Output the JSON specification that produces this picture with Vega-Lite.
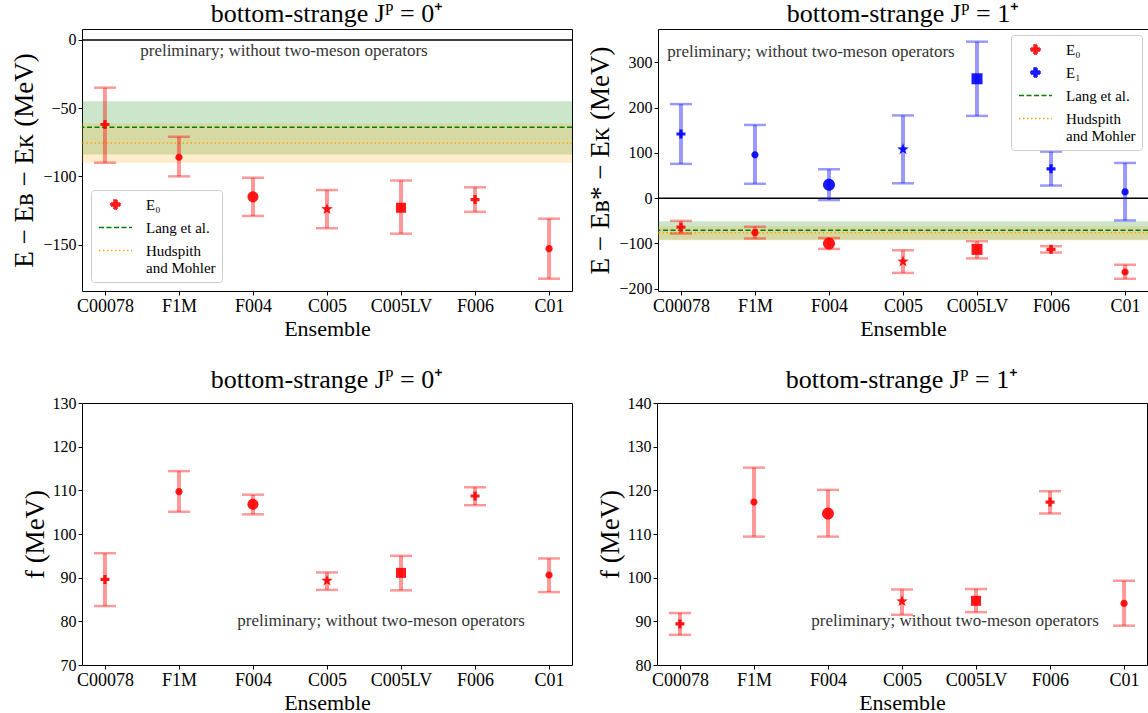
{
  "$schema": "https://vega.github.io/schema/vega-lite/v6.json",
  "background": "white",
  "padding": {"left": 10, "top": 0, "right": 0, "bottom": 0},
  "config": {
    "font": "Liberation Serif",
    "view": {"stroke": "black", "strokeWidth": 1},
    "axis": {"grid": false, "domain": false, "labelFont": "Liberation Serif", "labelFontSize": 16, "labelColor": "black", "titleFont": "Liberation Serif", "titleFontWeight": "normal", "titleColor": "black", "tickColor": "black", "tickSize": 4, "labelPadding": 2},
    "axisX": {"titleFontSize": 22, "titlePadding": 3, "labelFontSize": 18},
    "axisY": {"titleFontSize": 27, "titlePadding": 4},
    "title": {"fontSize": 26, "fontWeight": "normal", "font": "Liberation Serif", "offset": 2, "color": "black"},
    "legend": {"title": null, "symbolSize": 225, "symbolStrokeWidth": 1.5, "symbolOpacity": 1, "symbolOffset": 10, "labelFontSize": 15, "labelFont": "Liberation Serif", "labelColor": "black", "fillColor": "white", "strokeColor": "#cccccc", "cornerRadius": 3, "padding": 6, "rowPadding": 6, "labelOffset": 22}
  },
  "datasets": {
    "e": [
      {"panel": "0", "ensemble": "C00078", "state": "E₀", "value": -62, "lo": -90, "hi": -35},
      {"panel": "0", "ensemble": "F1M", "state": "E₀", "value": -86, "lo": -100, "hi": -71},
      {"panel": "0", "ensemble": "F004", "state": "E₀", "value": -115, "lo": -129, "hi": -101},
      {"panel": "0", "ensemble": "C005", "state": "E₀", "value": -124, "lo": -138, "hi": -110},
      {"panel": "0", "ensemble": "C005LV", "state": "E₀", "value": -123, "lo": -142, "hi": -103},
      {"panel": "0", "ensemble": "F006", "state": "E₀", "value": -117, "lo": -126, "hi": -108},
      {"panel": "0", "ensemble": "C01", "state": "E₀", "value": -153, "lo": -175, "hi": -131},
      {"panel": "1", "ensemble": "C00078", "state": "E₀", "value": -64, "lo": -78, "hi": -50},
      {"panel": "1", "ensemble": "F1M", "state": "E₀", "value": -76, "lo": -89, "hi": -63},
      {"panel": "1", "ensemble": "F004", "state": "E₀", "value": -100, "lo": -112, "hi": -88},
      {"panel": "1", "ensemble": "C005", "state": "E₀", "value": -140, "lo": -165, "hi": -115},
      {"panel": "1", "ensemble": "C005LV", "state": "E₀", "value": -113, "lo": -133, "hi": -95},
      {"panel": "1", "ensemble": "F006", "state": "E₀", "value": -113, "lo": -120, "hi": -106},
      {"panel": "1", "ensemble": "C01", "state": "E₀", "value": -163, "lo": -178, "hi": -147},
      {"panel": "1", "ensemble": "C00078", "state": "E₁", "value": 142, "lo": 76, "hi": 208},
      {"panel": "1", "ensemble": "F1M", "state": "E₁", "value": 96, "lo": 32, "hi": 162},
      {"panel": "1", "ensemble": "F004", "state": "E₁", "value": 30, "lo": -4, "hi": 64},
      {"panel": "1", "ensemble": "C005", "state": "E₁", "value": 108, "lo": 33, "hi": 183},
      {"panel": "1", "ensemble": "C005LV", "state": "E₁", "value": 264, "lo": 182, "hi": 346},
      {"panel": "1", "ensemble": "F006", "state": "E₁", "value": 65, "lo": 28, "hi": 103},
      {"panel": "1", "ensemble": "C01", "state": "E₁", "value": 14, "lo": -49, "hi": 78}
    ],
    "f": [
      {"panel": "0", "ensemble": "C00078", "state": "E₀", "value": 89.6, "lo": 83.5, "hi": 95.6},
      {"panel": "0", "ensemble": "F1M", "state": "E₀", "value": 109.7, "lo": 105.1, "hi": 114.4},
      {"panel": "0", "ensemble": "F004", "state": "E₀", "value": 106.8, "lo": 104.5, "hi": 109.0},
      {"panel": "0", "ensemble": "C005", "state": "E₀", "value": 89.3, "lo": 87.2, "hi": 91.2},
      {"panel": "0", "ensemble": "C005LV", "state": "E₀", "value": 91.1, "lo": 87.1, "hi": 95.0},
      {"panel": "0", "ensemble": "F006", "state": "E₀", "value": 108.7, "lo": 106.6, "hi": 110.7},
      {"panel": "0", "ensemble": "C01", "state": "E₀", "value": 90.6, "lo": 86.7, "hi": 94.4},
      {"panel": "1", "ensemble": "C00078", "state": "E₀", "value": 89.4, "lo": 86.9, "hi": 91.9},
      {"panel": "1", "ensemble": "F1M", "state": "E₀", "value": 117.3, "lo": 109.4, "hi": 125.2},
      {"panel": "1", "ensemble": "F004", "state": "E₀", "value": 114.7, "lo": 109.4, "hi": 120.1},
      {"panel": "1", "ensemble": "C005", "state": "E₀", "value": 94.6, "lo": 91.5, "hi": 97.3},
      {"panel": "1", "ensemble": "C005LV", "state": "E₀", "value": 94.7, "lo": 92.1, "hi": 97.4},
      {"panel": "1", "ensemble": "F006", "state": "E₀", "value": 117.3, "lo": 114.7, "hi": 119.8},
      {"panel": "1", "ensemble": "C01", "state": "E₀", "value": 94.1, "lo": 89.0, "hi": 99.3}
    ],
    "ref": [
      {"panel": "0", "series": "Lang et al.", "value": -64, "lo": -84, "hi": -45},
      {"panel": "0", "series": "Hudspith and Mohler", "value": -75.5, "lo": -90, "hi": -61},
      {"panel": "1", "series": "Lang et al.", "value": -70.5, "lo": -92, "hi": -51},
      {"panel": "1", "series": "Hudspith and Mohler", "value": -76.5, "lo": -93, "hi": -62}
    ],
    "leg0": [{"series": "E₀"}, {"series": "Lang et al."}, {"series": "Hudspith and Mohler"}],
    "leg1": [{"series": "E₀"}, {"series": "E₁"}, {"series": "Lang et al."}, {"series": "Hudspith and Mohler"}],
    "one": [{"k": 1}]
  },
  "resolve": {"scale": {"fill": "independent", "stroke": "independent", "shape": "independent", "strokeDash": "independent"}},
  "spacing": 26,
  "vconcat": [
    {
      "spacing": 12,
      "resolve": {"scale": {"fill": "independent", "stroke": "independent", "shape": "independent", "strokeDash": "independent"}},
      "hconcat": [
        {
          "width": 490, "height": 262,
          "title": "bottom-strange Jᴾ = 0⁺",
          "layer": [
            {"data": {"name": "ref"}, "transform": [{"filter": "datum.panel == '0'"}],
             "mark": {"type": "rect", "opacity": 0.2},
             "encoding": {
               "y": {"field": "lo", "type": "quantitative", "title": "E − Eʙ − Eᴋ (MeV)", "scale": {"domain": [-184, 8], "nice": false, "zero": false}, "axis": {"values": [0, -50, -100, -150]}},
               "y2": {"field": "hi"},
               "color": {"condition": {"test": "datum.series == 'Lang et al.'", "value": "#008000"}, "value": "#ffa500"}}},
            {"data": {"name": "ref"}, "transform": [{"filter": "datum.panel == '0'"}],
             "mark": {"type": "rule", "strokeWidth": 1.5},
             "encoding": {
               "y": {"field": "value", "type": "quantitative", "title": "E − Eʙ − Eᴋ (MeV)"},
               "color": {"condition": {"test": "datum.series == 'Lang et al.'", "value": "#008000"}, "value": "#ffa500"},
               "strokeDash": {"condition": {"test": "datum.series == 'Lang et al.'", "value": [5, 2.5]}, "value": [1.5, 2.5]}}},
            {"data": {"name": "one"}, "mark": {"type": "rule", "color": "black", "strokeWidth": 1.5},
             "encoding": {"y": {"datum": 0, "type": "quantitative"}}},
            {"data": {"name": "e"}, "transform": [{"filter": "datum.panel == '0'"}],
             "mark": {"type": "rule", "strokeWidth": 4, "opacity": 0.4},
             "encoding": {
               "x": {"field": "ensemble", "type": "nominal", "title": "Ensemble", "scale": {"type": "point", "padding": 0.31, "domain": ["C00078", "F1M", "F004", "C005", "C005LV", "F006", "C01"]}, "axis": {"labelAngle": 0}},
               "y": {"field": "lo", "type": "quantitative", "title": "E − Eʙ − Eᴋ (MeV)"},
               "y2": {"field": "hi"},
               "color": {"condition": {"test": "datum.state == 'E₁'", "value": "#0000ff"}, "value": "#ff0000"}}},
            {"data": {"name": "e"}, "transform": [{"filter": "datum.panel == '0'"}],
             "mark": {"type": "tick", "orient": "horizontal", "size": 22, "thickness": 2.5, "opacity": 0.4},
             "encoding": {
               "x": {"field": "ensemble", "type": "nominal", "title": "Ensemble"},
               "y": {"field": "lo", "type": "quantitative", "title": "E − Eʙ − Eᴋ (MeV)"},
               "color": {"condition": {"test": "datum.state == 'E₁'", "value": "#0000ff"}, "value": "#ff0000"}}},
            {"data": {"name": "e"}, "transform": [{"filter": "datum.panel == '0'"}],
             "mark": {"type": "tick", "orient": "horizontal", "size": 22, "thickness": 2.5, "opacity": 0.4},
             "encoding": {
               "x": {"field": "ensemble", "type": "nominal", "title": "Ensemble"},
               "y": {"field": "hi", "type": "quantitative", "title": "E − Eʙ − Eᴋ (MeV)"},
               "color": {"condition": {"test": "datum.state == 'E₁'", "value": "#0000ff"}, "value": "#ff0000"}}},
            {"data": {"name": "e"}, "transform": [{"filter": "datum.panel == '0'"}],
             "mark": {"type": "point", "filled": true, "opacity": 0.9, "size": 400},
             "encoding": {
               "x": {"field": "ensemble", "type": "nominal", "title": "Ensemble"},
               "y": {"field": "value", "type": "quantitative", "title": "E − Eʙ − Eᴋ (MeV)"},
               "color": {"condition": {"test": "datum.state == 'E₁'", "value": "#0000ff"}, "value": "#ff0000"},
               "shape": {"condition": [
                 {"test": "datum.ensemble == 'C00078' || datum.ensemble == 'F006'", "value": "M-0.16,-0.45H0.16V-0.16H0.45V0.16H0.16V0.45H-0.16V0.16H-0.45V-0.16H-0.16Z"},
                 {"test": "datum.ensemble == 'F004'", "value": "M-0.55,0A0.55,0.55 0 1,0 0.55,0A0.55,0.55 0 1,0 -0.55,0Z"},
                 {"test": "datum.ensemble == 'C005'", "value": "M0,-0.6L0.147,-0.202L0.571,-0.185L0.238,0.077L0.353,0.485L0,0.25L-0.353,0.485L-0.238,0.077L-0.571,-0.185L-0.147,-0.202Z"},
                 {"test": "datum.ensemble == 'C005LV'", "value": "M-0.5,-0.5H0.5V0.5H-0.5Z"}],
                 "value": "M-0.36,0A0.36,0.36 0 1,0 0.36,0A0.36,0.36 0 1,0 -0.36,0Z"}}},
            {"data": {"name": "one"},
             "mark": {"type": "text", "text": "preliminary; without two-meson operators", "fontSize": 17, "color": "#333333", "dx": 31, "baseline": "middle"},
             "encoding": {"x": {"datum": "F004", "type": "nominal"}, "y": {"datum": -8, "type": "quantitative"}}},
            {"data": {"name": "leg0"},
             "mark": {"type": "point", "filled": true, "opacity": 0},
             "encoding": {
               "fill": {"field": "series", "type": "nominal", "scale": {"domain": ["E₀", "Lang et al.", "Hudspith and Mohler"], "range": ["#ff1a1a", "#008000", "#ffa500"]}, "legend": {"orient": "bottom-left", "offset": 9, "labelExpr": "datum.label == 'Hudspith and Mohler' ? ['Hudspith', 'and Mohler'] : datum.label"}},
               "stroke": {"field": "series", "type": "nominal", "scale": {"domain": ["E₀", "Lang et al.", "Hudspith and Mohler"], "range": ["#ff1a1a", "#008000", "#ffa500"]}, "legend": {"orient": "bottom-left", "offset": 9, "labelExpr": "datum.label == 'Hudspith and Mohler' ? ['Hudspith', 'and Mohler'] : datum.label"}},
               "shape": {"field": "series", "type": "nominal", "scale": {"domain": ["E₀", "Lang et al.", "Hudspith and Mohler"], "range": ["M-0.2,-0.6H0.2V-0.2H0.6V0.2H0.2V0.6H-0.2V0.2H-0.6V-0.2H-0.2Z", "M-2.2,0H2.2", "M-2.2,0H2.2"]}, "legend": {"orient": "bottom-left", "offset": 9, "labelExpr": "datum.label == 'Hudspith and Mohler' ? ['Hudspith', 'and Mohler'] : datum.label"}},
               "strokeDash": {"field": "series", "type": "nominal", "scale": {"domain": ["E₀", "Lang et al.", "Hudspith and Mohler"], "range": [[1, 0], [5, 2.5], [1.5, 2.5]]}, "legend": {"orient": "bottom-left", "offset": 9, "labelExpr": "datum.label == 'Hudspith and Mohler' ? ['Hudspith', 'and Mohler'] : datum.label"}}}}
          ]
        },
        {
          "width": 490, "height": 262,
          "title": "bottom-strange Jᴾ = 1⁺",
          "layer": [
            {"data": {"name": "ref"}, "transform": [{"filter": "datum.panel == '1'"}],
             "mark": {"type": "rect", "opacity": 0.2},
             "encoding": {
               "y": {"field": "lo", "type": "quantitative", "title": "E − Eʙ* − Eᴋ (MeV)", "scale": {"domain": [-205, 374], "nice": false, "zero": false}, "axis": {"values": [-200, -100, 0, 100, 200, 300]}},
               "y2": {"field": "hi"},
               "color": {"condition": {"test": "datum.series == 'Lang et al.'", "value": "#008000"}, "value": "#ffa500"}}},
            {"data": {"name": "ref"}, "transform": [{"filter": "datum.panel == '1'"}],
             "mark": {"type": "rule", "strokeWidth": 1.5},
             "encoding": {
               "y": {"field": "value", "type": "quantitative", "title": "E − Eʙ* − Eᴋ (MeV)"},
               "color": {"condition": {"test": "datum.series == 'Lang et al.'", "value": "#008000"}, "value": "#ffa500"},
               "strokeDash": {"condition": {"test": "datum.series == 'Lang et al.'", "value": [5, 2.5]}, "value": [1.5, 2.5]}}},
            {"data": {"name": "one"}, "mark": {"type": "rule", "color": "black", "strokeWidth": 1.5},
             "encoding": {"y": {"datum": 0, "type": "quantitative"}}},
            {"data": {"name": "e"}, "transform": [{"filter": "datum.panel == '1'"}],
             "mark": {"type": "rule", "strokeWidth": 4, "opacity": 0.4},
             "encoding": {
               "x": {"field": "ensemble", "type": "nominal", "title": "Ensemble", "scale": {"type": "point", "padding": 0.31, "domain": ["C00078", "F1M", "F004", "C005", "C005LV", "F006", "C01"]}, "axis": {"labelAngle": 0}},
               "y": {"field": "lo", "type": "quantitative", "title": "E − Eʙ* − Eᴋ (MeV)"},
               "y2": {"field": "hi"},
               "color": {"condition": {"test": "datum.state == 'E₁'", "value": "#0000ff"}, "value": "#ff0000"}}},
            {"data": {"name": "e"}, "transform": [{"filter": "datum.panel == '1'"}],
             "mark": {"type": "tick", "orient": "horizontal", "size": 22, "thickness": 2.5, "opacity": 0.4},
             "encoding": {
               "x": {"field": "ensemble", "type": "nominal", "title": "Ensemble"},
               "y": {"field": "lo", "type": "quantitative", "title": "E − Eʙ* − Eᴋ (MeV)"},
               "color": {"condition": {"test": "datum.state == 'E₁'", "value": "#0000ff"}, "value": "#ff0000"}}},
            {"data": {"name": "e"}, "transform": [{"filter": "datum.panel == '1'"}],
             "mark": {"type": "tick", "orient": "horizontal", "size": 22, "thickness": 2.5, "opacity": 0.4},
             "encoding": {
               "x": {"field": "ensemble", "type": "nominal", "title": "Ensemble"},
               "y": {"field": "hi", "type": "quantitative", "title": "E − Eʙ* − Eᴋ (MeV)"},
               "color": {"condition": {"test": "datum.state == 'E₁'", "value": "#0000ff"}, "value": "#ff0000"}}},
            {"data": {"name": "e"}, "transform": [{"filter": "datum.panel == '1'"}],
             "mark": {"type": "point", "filled": true, "opacity": 0.9, "size": 400},
             "encoding": {
               "x": {"field": "ensemble", "type": "nominal", "title": "Ensemble"},
               "y": {"field": "value", "type": "quantitative", "title": "E − Eʙ* − Eᴋ (MeV)"},
               "color": {"condition": {"test": "datum.state == 'E₁'", "value": "#0000ff"}, "value": "#ff0000"},
               "shape": {"condition": [
                 {"test": "datum.ensemble == 'C00078' || datum.ensemble == 'F006'", "value": "M-0.16,-0.45H0.16V-0.16H0.45V0.16H0.16V0.45H-0.16V0.16H-0.45V-0.16H-0.16Z"},
                 {"test": "datum.ensemble == 'F004'", "value": "M-0.6,0A0.6,0.6 0 1,0 0.6,0A0.6,0.6 0 1,0 -0.6,0Z"},
                 {"test": "datum.ensemble == 'C005'", "value": "M0,-0.6L0.147,-0.202L0.571,-0.185L0.238,0.077L0.353,0.485L0,0.25L-0.353,0.485L-0.238,0.077L-0.571,-0.185L-0.147,-0.202Z"},
                 {"test": "datum.ensemble == 'C005LV'", "value": "M-0.55,-0.55H0.55V0.55H-0.55Z"}],
                 "value": "M-0.36,0A0.36,0.36 0 1,0 0.36,0A0.36,0.36 0 1,0 -0.36,0Z"}}},
            {"data": {"name": "one"},
             "mark": {"type": "text", "text": "preliminary; without two-meson operators", "fontSize": 17, "color": "#333333", "dx": -18, "baseline": "middle"},
             "encoding": {"x": {"datum": "F004", "type": "nominal"}, "y": {"datum": 324, "type": "quantitative"}}},
            {"data": {"name": "leg1"},
             "mark": {"type": "point", "filled": true, "opacity": 0},
             "encoding": {
               "fill": {"field": "series", "type": "nominal", "scale": {"domain": ["E₀", "E₁", "Lang et al.", "Hudspith and Mohler"], "range": ["#ff1a1a", "#1a1aff", "#008000", "#ffa500"]}, "legend": {"orient": "top-right", "offset": 6, "labelExpr": "datum.label == 'Hudspith and Mohler' ? ['Hudspith', 'and Mohler'] : datum.label"}},
               "stroke": {"field": "series", "type": "nominal", "scale": {"domain": ["E₀", "E₁", "Lang et al.", "Hudspith and Mohler"], "range": ["#ff1a1a", "#1a1aff", "#008000", "#ffa500"]}, "legend": {"orient": "top-right", "offset": 6, "labelExpr": "datum.label == 'Hudspith and Mohler' ? ['Hudspith', 'and Mohler'] : datum.label"}},
               "shape": {"field": "series", "type": "nominal", "scale": {"domain": ["E₀", "E₁", "Lang et al.", "Hudspith and Mohler"], "range": ["M-0.2,-0.6H0.2V-0.2H0.6V0.2H0.2V0.6H-0.2V0.2H-0.6V-0.2H-0.2Z", "M-0.2,-0.6H0.2V-0.2H0.6V0.2H0.2V0.6H-0.2V0.2H-0.6V-0.2H-0.2Z", "M-2.2,0H2.2", "M-2.2,0H2.2"]}, "legend": {"orient": "top-right", "offset": 6, "labelExpr": "datum.label == 'Hudspith and Mohler' ? ['Hudspith', 'and Mohler'] : datum.label"}},
               "strokeDash": {"field": "series", "type": "nominal", "scale": {"domain": ["E₀", "E₁", "Lang et al.", "Hudspith and Mohler"], "range": [[1, 0], [1, 0], [5, 2.5], [1.5, 2.5]]}, "legend": {"orient": "top-right", "offset": 6, "labelExpr": "datum.label == 'Hudspith and Mohler' ? ['Hudspith', 'and Mohler'] : datum.label"}}}}
          ]
        }
      ]
    },
    {
      "spacing": 22,
      "hconcat": [
        {
          "width": 490, "height": 262,
          "title": "bottom-strange Jᴾ = 0⁺",
          "layer": [
            {"data": {"name": "f"}, "transform": [{"filter": "datum.panel == '0'"}],
             "mark": {"type": "rule", "strokeWidth": 4, "opacity": 0.4, "color": "#ff0000"},
             "encoding": {
               "x": {"field": "ensemble", "type": "nominal", "title": "Ensemble", "scale": {"type": "point", "padding": 0.31, "domain": ["C00078", "F1M", "F004", "C005", "C005LV", "F006", "C01"]}, "axis": {"labelAngle": 0}},
               "y": {"field": "lo", "type": "quantitative", "title": "f (MeV)", "scale": {"domain": [70, 130], "nice": false, "zero": false}, "axis": {"values": [70, 80, 90, 100, 110, 120, 130], "titlePadding": 3}},
               "y2": {"field": "hi"}}},
            {"data": {"name": "f"}, "transform": [{"filter": "datum.panel == '0'"}],
             "mark": {"type": "tick", "orient": "horizontal", "size": 22, "thickness": 2.5, "opacity": 0.4, "color": "#ff0000"},
             "encoding": {
               "x": {"field": "ensemble", "type": "nominal", "title": "Ensemble"},
               "y": {"field": "lo", "type": "quantitative", "title": "f (MeV)"}}},
            {"data": {"name": "f"}, "transform": [{"filter": "datum.panel == '0'"}],
             "mark": {"type": "tick", "orient": "horizontal", "size": 22, "thickness": 2.5, "opacity": 0.4, "color": "#ff0000"},
             "encoding": {
               "x": {"field": "ensemble", "type": "nominal", "title": "Ensemble"},
               "y": {"field": "hi", "type": "quantitative", "title": "f (MeV)"}}},
            {"data": {"name": "f"}, "transform": [{"filter": "datum.panel == '0'"}],
             "mark": {"type": "point", "filled": true, "opacity": 0.9, "size": 400, "color": "#ff0000"},
             "encoding": {
               "x": {"field": "ensemble", "type": "nominal", "title": "Ensemble"},
               "y": {"field": "value", "type": "quantitative", "title": "f (MeV)"},
               "shape": {"condition": [
                 {"test": "datum.ensemble == 'C00078' || datum.ensemble == 'F006'", "value": "M-0.16,-0.45H0.16V-0.16H0.45V0.16H0.16V0.45H-0.16V0.16H-0.45V-0.16H-0.16Z"},
                 {"test": "datum.ensemble == 'F004'", "value": "M-0.55,0A0.55,0.55 0 1,0 0.55,0A0.55,0.55 0 1,0 -0.55,0Z"},
                 {"test": "datum.ensemble == 'C005'", "value": "M0,-0.6L0.147,-0.202L0.571,-0.185L0.238,0.077L0.353,0.485L0,0.25L-0.353,0.485L-0.238,0.077L-0.571,-0.185L-0.147,-0.202Z"},
                 {"test": "datum.ensemble == 'C005LV'", "value": "M-0.5,-0.5H0.5V0.5H-0.5Z"}],
                 "value": "M-0.36,0A0.36,0.36 0 1,0 0.36,0A0.36,0.36 0 1,0 -0.36,0Z"}}},
            {"data": {"name": "one"},
             "mark": {"type": "text", "text": "preliminary; without two-meson operators", "fontSize": 17, "color": "#333333", "dx": -20, "baseline": "middle"},
             "encoding": {"x": {"datum": "C005LV", "type": "nominal"}, "y": {"datum": 80.1, "type": "quantitative"}}}
          ]
        },
        {
          "width": 490, "height": 262,
          "title": "bottom-strange Jᴾ = 1⁺",
          "layer": [
            {"data": {"name": "f"}, "transform": [{"filter": "datum.panel == '1'"}],
             "mark": {"type": "rule", "strokeWidth": 4, "opacity": 0.4, "color": "#ff0000"},
             "encoding": {
               "x": {"field": "ensemble", "type": "nominal", "title": "Ensemble", "scale": {"type": "point", "padding": 0.31, "domain": ["C00078", "F1M", "F004", "C005", "C005LV", "F006", "C01"]}, "axis": {"labelAngle": 0}},
               "y": {"field": "lo", "type": "quantitative", "title": "f (MeV)", "scale": {"domain": [80, 140], "nice": false, "zero": false}, "axis": {"values": [80, 90, 100, 110, 120, 130, 140], "titlePadding": 3}},
               "y2": {"field": "hi"}}},
            {"data": {"name": "f"}, "transform": [{"filter": "datum.panel == '1'"}],
             "mark": {"type": "tick", "orient": "horizontal", "size": 22, "thickness": 2.5, "opacity": 0.4, "color": "#ff0000"},
             "encoding": {
               "x": {"field": "ensemble", "type": "nominal", "title": "Ensemble"},
               "y": {"field": "lo", "type": "quantitative", "title": "f (MeV)"}}},
            {"data": {"name": "f"}, "transform": [{"filter": "datum.panel == '1'"}],
             "mark": {"type": "tick", "orient": "horizontal", "size": 22, "thickness": 2.5, "opacity": 0.4, "color": "#ff0000"},
             "encoding": {
               "x": {"field": "ensemble", "type": "nominal", "title": "Ensemble"},
               "y": {"field": "hi", "type": "quantitative", "title": "f (MeV)"}}},
            {"data": {"name": "f"}, "transform": [{"filter": "datum.panel == '1'"}],
             "mark": {"type": "point", "filled": true, "opacity": 0.9, "size": 400, "color": "#ff0000"},
             "encoding": {
               "x": {"field": "ensemble", "type": "nominal", "title": "Ensemble"},
               "y": {"field": "value", "type": "quantitative", "title": "f (MeV)"},
               "shape": {"condition": [
                 {"test": "datum.ensemble == 'C00078' || datum.ensemble == 'F006'", "value": "M-0.16,-0.45H0.16V-0.16H0.45V0.16H0.16V0.45H-0.16V0.16H-0.45V-0.16H-0.16Z"},
                 {"test": "datum.ensemble == 'F004'", "value": "M-0.6,0A0.6,0.6 0 1,0 0.6,0A0.6,0.6 0 1,0 -0.6,0Z"},
                 {"test": "datum.ensemble == 'C005'", "value": "M0,-0.6L0.147,-0.202L0.571,-0.185L0.238,0.077L0.353,0.485L0,0.25L-0.353,0.485L-0.238,0.077L-0.571,-0.185L-0.147,-0.202Z"},
                 {"test": "datum.ensemble == 'C005LV'", "value": "M-0.5,-0.5H0.5V0.5H-0.5Z"}],
                 "value": "M-0.36,0A0.36,0.36 0 1,0 0.36,0A0.36,0.36 0 1,0 -0.36,0Z"}}},
            {"data": {"name": "one"},
             "mark": {"type": "text", "text": "preliminary; without two-meson operators", "fontSize": 17, "color": "#333333", "dx": -21, "baseline": "middle"},
             "encoding": {"x": {"datum": "C005LV", "type": "nominal"}, "y": {"datum": 90.1, "type": "quantitative"}}}
          ]
        }
      ]
    }
  ]
}
